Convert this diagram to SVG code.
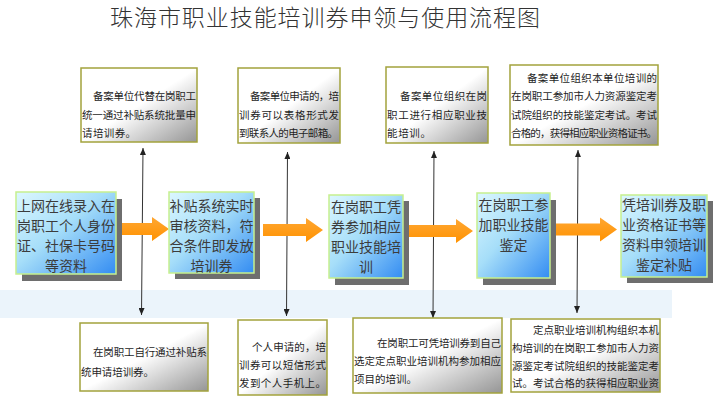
<svg xmlns="http://www.w3.org/2000/svg" width="720" height="400" viewBox="0 0 720 400">
<defs>
<linearGradient id="gBlue" x1="0" y1="0" x2="1" y2="1">
<stop offset="0" stop-color="#dcf7ff"/>
<stop offset="0.45" stop-color="#a6def9"/>
<stop offset="1" stop-color="#338cf2"/>
</linearGradient>
<linearGradient id="gGray" x1="0" y1="0" x2="1" y2="1">
<stop offset="0" stop-color="#ffffff"/>
<stop offset="0.5" stop-color="#ffffff"/>
<stop offset="1" stop-color="#959595"/>
</linearGradient>
<linearGradient id="gOrange" x1="0" y1="0" x2="0" y2="1">
<stop offset="0" stop-color="#ffa733"/>
<stop offset="1" stop-color="#ff9200"/>
</linearGradient>
<marker id="tip" markerUnits="userSpaceOnUse" markerWidth="8" markerHeight="6" refX="7" refY="3" orient="auto-start-reverse">
<path d="M0,0 L7,3 L0,6 Z" fill="#222"/>
</marker>
</defs>
<style>
text{font-family:"Noto Sans CJK SC","Noto Sans",sans-serif;}
.title{font-size:23px;fill:#333;font-weight:300;}
.shadow{fill:#6e6e6e;}
.main{fill:url(#gBlue);stroke:#c6f08e;stroke-width:1.5;}
.mt{font-size:14px;fill:#3c3c3c;text-anchor:middle;}
.note{fill:url(#gGray);stroke:#a3a33c;stroke-width:1.5;}
.nt{font-size:10.5px;fill:#1e1e1e;}
.vl{stroke:#333;stroke-width:1;fill:none;marker-start:url(#tip);marker-end:url(#tip);}
.oa{fill:url(#gOrange);}
</style>
<rect x="0" y="0" width="720" height="400" fill="#ffffff"/>
<rect x="0" y="290" width="672" height="28" fill="#ebf4fb"/>
<text class="title" x="110" y="26" textLength="430" lengthAdjust="spacing">珠海市职业技能培训券申领与使用流程图</text>

<g id="connectors">
<line class="vl" x1="143" y1="148" x2="141.5" y2="315"/>
<line class="vl" x1="287.5" y1="152" x2="286.5" y2="316"/>
<line class="vl" x1="434" y1="151" x2="433" y2="318"/>
<line class="vl" x1="578" y1="150" x2="577" y2="313"/>
<path class="oa" d="M121,223 H152 V217 L169,229 L152,241 V235 H121 Z"/>
<path class="oa" d="M263,224 H306 V218 L323,230 L306,242 V236 H263 Z"/>
<path class="oa" d="M409,225 H456 V219 L473,231 L456,243 V237 H409 Z"/>
<path class="oa" d="M553,223.5 H600 V217.5 L617,229.5 L600,241.5 V235.5 H553 Z"/>
</g>

<g id="step1">
<rect class="shadow" x="22" y="199" width="100" height="82"/>
<rect class="main" x="16" y="192" width="100" height="82"/>
<text class="mt" x="66" y="211">上网在线录入在</text>
<text class="mt" x="66" y="231">岗职工个人身份</text>
<text class="mt" x="66" y="251">证、社保卡号码</text>
<text class="mt" x="66" y="271">等资料</text>
</g>
<g id="step2">
<rect class="shadow" x="175" y="198" width="85" height="81"/>
<rect class="main" x="169" y="192" width="85" height="81"/>
<text class="mt" x="211.5" y="211">补贴系统实时</text>
<text class="mt" x="211.5" y="231">审核资料，符</text>
<text class="mt" x="211.5" y="251">合条件即发放</text>
<text class="mt" x="211.5" y="271">培训券</text>
</g>
<g id="step3">
<rect class="shadow" x="335" y="201" width="74" height="84"/>
<rect class="main" x="329" y="195" width="74" height="83"/>
<text class="mt" x="366" y="212">在岗职工凭</text>
<text class="mt" x="366" y="232">券参加相应</text>
<text class="mt" x="366" y="252">职业技能培</text>
<text class="mt" x="366" y="272">训</text>
</g>
<g id="step4">
<rect class="shadow" x="483" y="200" width="73" height="85"/>
<rect class="main" x="477" y="193" width="73" height="85"/>
<text class="mt" x="513.5" y="210">在岗职工参</text>
<text class="mt" x="513.5" y="230">加职业技能</text>
<text class="mt" x="513.5" y="250">鉴定</text>
</g>
<g id="step5">
<rect class="shadow" x="627" y="201" width="86" height="82"/>
<rect class="main" x="621" y="195" width="86" height="82"/>
<text class="mt" x="664" y="210">凭培训券及职</text>
<text class="mt" x="664" y="230">业资格证书等</text>
<text class="mt" x="664" y="250">资料申领培训</text>
<text class="mt" x="664" y="270">鉴定补贴</text>
</g>

<g id="note-top1">
<rect class="note" x="81" y="68" width="116" height="74"/>
<text class="nt" x="93" y="100" textLength="103" lengthAdjust="spacing">备案单位代替在岗职工</text>
<text class="nt" x="82" y="118.5" textLength="114" lengthAdjust="spacing">统一通过补贴系统批量申</text>
<text class="nt" x="82" y="136.5" textLength="54" lengthAdjust="spacing">请培训券。</text>
</g>
<g id="note-top2">
<rect class="note" x="238" y="68" width="102" height="75"/>
<text class="nt" x="250" y="100" textLength="89" lengthAdjust="spacing">备案单位申请的，培</text>
<text class="nt" x="239" y="118.5" textLength="100" lengthAdjust="spacing">训券可以表格形式发</text>
<text class="nt" x="239" y="136.5" textLength="99" lengthAdjust="spacing">到联系人的电子邮箱。</text>
</g>
<g id="note-top3">
<rect class="note" x="386" y="67" width="102" height="76"/>
<text class="nt" x="400" y="100" textLength="87" lengthAdjust="spacing">备案单位组织在岗</text>
<text class="nt" x="387" y="118.5" textLength="100" lengthAdjust="spacing">职工进行相应职业技</text>
<text class="nt" x="387" y="136.5" textLength="44" lengthAdjust="spacing">能培训。</text>
</g>
<g id="note-top4">
<rect class="note" x="510" y="65" width="148" height="80"/>
<text class="nt" x="527" y="81.5" textLength="130" lengthAdjust="spacing">备案单位组织本单位培训的</text>
<text class="nt" x="511" y="100" textLength="146" lengthAdjust="spacing">在岗职工参加市人力资源鉴定考</text>
<text class="nt" x="511" y="118.5" textLength="146" lengthAdjust="spacing">试院组织的技能鉴定考试。考试</text>
<text class="nt" x="511" y="136.5" textLength="146" lengthAdjust="spacing">合格的，获得相应职业资格证书。</text>
</g>

<g id="note-bot1">
<rect class="note" x="80" y="323" width="128" height="68"/>
<text class="nt" x="93" y="356" textLength="114" lengthAdjust="spacing">在岗职工自行通过补贴系</text>
<text class="nt" x="81" y="376" textLength="73" lengthAdjust="spacing">统申请培训券。</text>
</g>
<g id="note-bot2">
<rect class="note" x="238" y="320" width="89" height="75"/>
<text class="nt" x="252" y="351" textLength="74" lengthAdjust="spacing">个人申请的，培</text>
<text class="nt" x="239" y="369" textLength="87" lengthAdjust="spacing">训券可以短信形式</text>
<text class="nt" x="239" y="387" textLength="87" lengthAdjust="spacing">发到个人手机上。</text>
</g>
<g id="note-bot3">
<rect class="note" x="353" y="318" width="149" height="75"/>
<text class="nt" x="377" y="346.5" textLength="124" lengthAdjust="spacing">在岗职工可凭培训券到自己</text>
<text class="nt" x="354" y="365" textLength="147" lengthAdjust="spacing">选定定点职业培训机构参加相应</text>
<text class="nt" x="354" y="383" textLength="63" lengthAdjust="spacing">项目的培训。</text>
</g>
<g id="note-bot4">
<rect class="note" x="511" y="319" width="149" height="73"/>
<text class="nt" x="533" y="333.5" textLength="126" lengthAdjust="spacing">定点职业培训机构组织本机</text>
<text class="nt" x="512" y="351.5" textLength="147" lengthAdjust="spacing">构培训的在岗职工参加市人力资</text>
<text class="nt" x="512" y="369.5" textLength="147" lengthAdjust="spacing">源鉴定考试院组织的技能鉴定考</text>
<text class="nt" x="512" y="387" textLength="147" lengthAdjust="spacing">试。考试合格的获得相应职业资</text>
</g>
</svg>
